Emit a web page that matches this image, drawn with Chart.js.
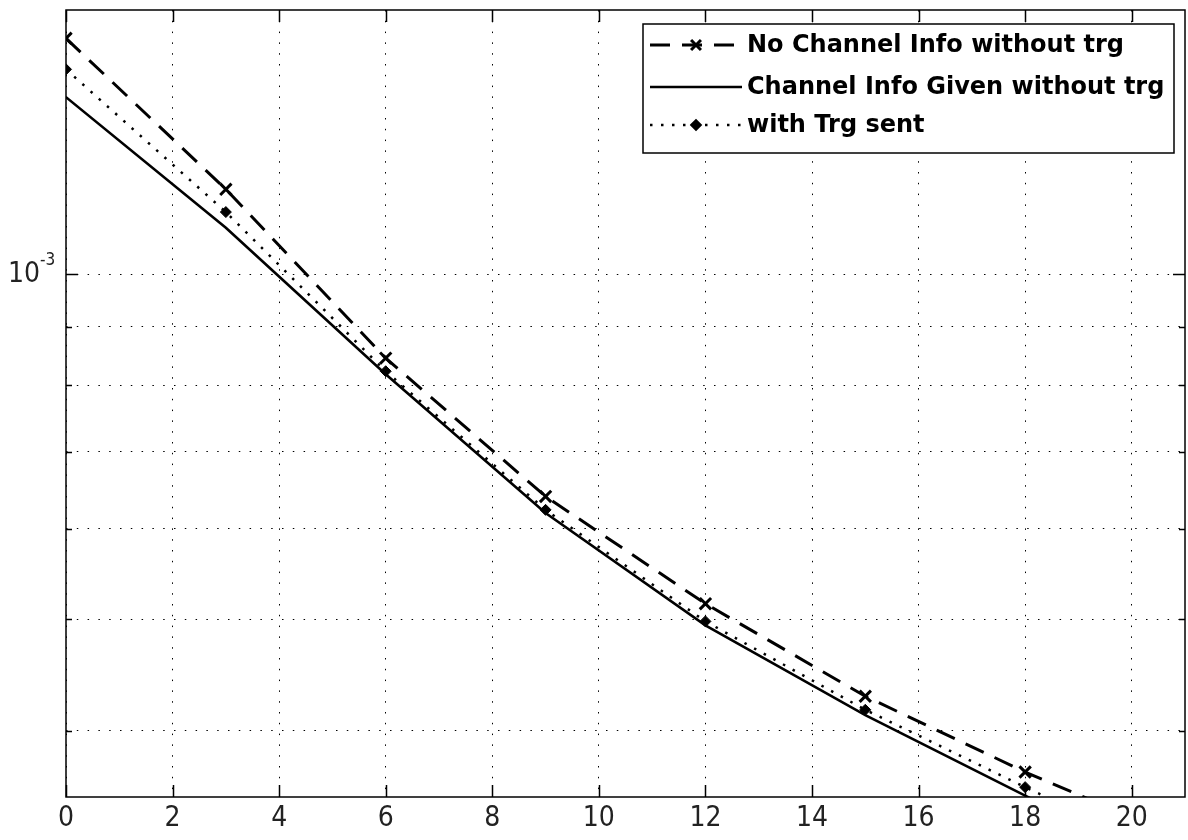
<!DOCTYPE html>
<html>
<head>
<meta charset="utf-8">
<style>
  html, body { margin: 0; padding: 0; background: #fff; overflow: hidden; }
  canvas { display: block; }
</style>
<script src="https://cdn.jsdelivr.net/npm/chart.js@4.4.1/dist/chart.umd.min.js"></script>
</head>
<body>
<canvas id="ber" width="1188" height="840"></canvas>
<script>
// values (log y axis)
const xValues = [0, 3, 6, 9, 12, 15, 18, 21];
const noChannelInfo = [1.606e-3, 1.186e-3, 0.845e-3, 0.640e-3, 0.516e-3, 0.4285e-3, 0.368e-3, 0.321e-3];
const channelInfoGiven = [1.427e-3, 1.098e-3, 0.818e-3, 0.619e-3, 0.494e-3, 0.4126e-3, 0.351e-3, 0.299e-3];
const withTrgSent = [1.509e-3, 1.133e-3, 0.823e-3, 0.623e-3, 0.498e-3, 0.417e-3, 0.357e-3, 0.307e-3];
const seriesNames = ['No Channel Info without trg', 'Channel Info Given without trg', 'with Trg sent'];
const xTicks = [0, 2, 4, 6, 8, 10, 12, 14, 16, 18, 20];
const yTicks = [4e-4, 5e-4, 6e-4, 7e-4, 8e-4, 9e-4, 1e-3];

const tickFont = '"Liberation Sans Narrow", "DejaVu Sans Condensed", sans-serif';
const legendFont = '"DejaVu Sans", "Liberation Sans", sans-serif';

const pts = ys => xValues.map((x, i) => ({ x: x, y: ys[i] }));

// MATLAB style frame: box, inward ticks, 10^-3 label, legend
const matlabFrame = {
  id: 'matlabFrame',
  afterDraw(chart) {
    const ctx = chart.ctx;
    const a = chart.chartArea;
    const xs = chart.scales.x, ys = chart.scales.y;
    ctx.save();
    ctx.strokeStyle = '#000';
    ctx.lineWidth = 1.5;
    ctx.setLineDash([]);
    ctx.strokeRect(a.left, a.top, a.right - a.left, a.bottom - a.top);

    ctx.beginPath();
    xTicks.forEach(v => {
      const px = Math.round(xs.getPixelForValue(v)) + 0.5;
      ctx.moveTo(px, a.bottom); ctx.lineTo(px, a.bottom - 12);
      ctx.moveTo(px, a.top); ctx.lineTo(px, a.top + 12);
    });
    yTicks.forEach(v => {
      const py = Math.round(ys.getPixelForValue(v)) + 0.5;
      const len = v === 1e-3 ? 12 : 6;
      ctx.moveTo(a.left, py); ctx.lineTo(a.left + len, py);
      ctx.moveTo(a.right, py); ctx.lineTo(a.right - len, py);
    });
    ctx.stroke();

    // 10^-3 label
    const y3 = ys.getPixelForValue(1e-3);
    ctx.fillStyle = '#222';
    ctx.textBaseline = 'middle';
    ctx.textAlign = 'right';
    ctx.font = '28px ' + tickFont;
    ctx.fillText('10', 40, y3);
    ctx.textAlign = 'left';
    ctx.textBaseline = 'alphabetic';
    ctx.font = '17px ' + tickFont;
    ctx.fillText('-3', 40, y3 - 9);

    // legend
    const L = 643, R = 1174, T = 24, B = 153;
    ctx.fillStyle = '#fff';
    ctx.fillRect(L, T, R - L, B - T);
    ctx.strokeStyle = '#000';
    ctx.lineWidth = 1.5;
    ctx.strokeRect(L, T, R - L, B - T);
    const rows = [45, 87, 125];
    const s0 = 650, s1 = 742, mid = (s0 + s1) / 2;
    chart.data.datasets.forEach((ds, i) => {
      const y = rows[i];
      ctx.strokeStyle = '#000';
      ctx.lineWidth = ds.borderWidth;
      ctx.setLineDash(ds.borderDash || []);
      ctx.beginPath();
      ctx.moveTo(s0, y); ctx.lineTo(s1, y);
      ctx.stroke();
      ctx.setLineDash([]);
      if (ds.pointRadius > 0) {
        ctx.fillStyle = '#000';
        Chart.helpers.drawPoint(ctx, {
          pointStyle: ds.pointStyle, radius: ds.pointRadius - 1, borderWidth: ds.pointBorderWidth
        }, mid, y);
      }
      ctx.fillStyle = '#000';
      ctx.font = 'bold 24px ' + legendFont;
      ctx.textAlign = 'left';
      ctx.textBaseline = 'middle';
      ctx.fillText(ds.label, 747, y + 1);
    });
    ctx.restore();
  }
};

new Chart(document.getElementById('ber'), {
  type: 'line',
  data: {
    datasets: [
      {
        label: seriesNames[0], data: pts(noChannelInfo),
        borderColor: '#000', borderWidth: 3, borderDash: [20, 12],
        pointStyle: 'crossRot', pointRadius: 8, pointBorderWidth: 3,
        pointBorderColor: '#000', pointBackgroundColor: '#000'
      },
      {
        label: seriesNames[1], data: pts(channelInfoGiven),
        borderColor: '#000', borderWidth: 2.6,
        pointRadius: 0
      },
      {
        label: seriesNames[2], data: pts(withTrgSent),
        borderColor: '#000', borderWidth: 2.5, borderDash: [2.5, 8.5],
        pointStyle: 'rectRot', pointRadius: 5.5, pointBorderWidth: 1,
        pointBorderColor: '#000', pointBackgroundColor: '#000'
      }
    ]
  },
  options: {
    responsive: false,
    animation: false,
    layout: { autoPadding: false, padding: { top: 10, right: 3, left: 0, bottom: 0 } },
    plugins: { legend: { display: false }, tooltip: { enabled: false } },
    elements: { line: { tension: 0 } },
    scales: {
      x: {
        type: 'linear', min: 0, max: 21,
        afterBuildTicks: s => { s.ticks = xTicks.map(v => ({ value: v })); },
        afterFit: s => { s.height = 43; s.paddingLeft = 0; s.paddingRight = 0; },
        grid: { color: '#000', lineWidth: 1, drawTicks: false },
        border: { display: false, dash: [1.5, 9.3] },
        ticks: {
          padding: 5, color: '#222',
          font: { family: tickFont, size: 28 },
          maxRotation: 0, autoSkip: false
        }
      },
      y: {
        type: 'logarithmic', min: 3.5e-4, max: 1.7e-3,
        afterBuildTicks: s => { s.ticks = yTicks.map(v => ({ value: v })); },
        afterFit: s => { s.width = 66; s.paddingTop = 0; s.paddingBottom = 0; },
        grid: { color: '#000', lineWidth: 1, drawTicks: false },
        border: { display: false, dash: [1.5, 9.3] },
        ticks: { display: false }
      }
    }
  },
  plugins: [matlabFrame]
});
</script>
</body>
</html>
